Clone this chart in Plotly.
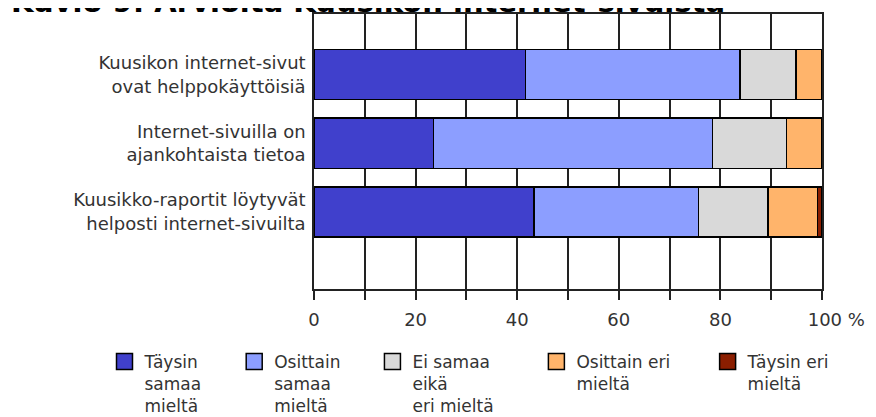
import plotly.graph_objects as go

categories = [
    "Kuusikon internet-sivut<br>ovat helppokäyttöisiä",
    "Internet-sivuilla on<br>ajankohtaista tietoa",
    "Kuusikko-raportit löytyvät<br>helposti internet-sivuilta",
]
NB = "\u00a0"
series_names = [
    "Täysin<br>samaa" + NB * 5 + "<br>mieltä",
    "Osittain" + NB * 5 + "<br>samaa<br>mieltä",
    "Ei samaa<br>eikä<br>eri mieltä" + NB * 7,
    "Osittain eri" + NB * 6 + "<br>mieltä",
    "Täysin eri<br>mieltä",
]
taysin_samaa = [41.6, 23.5, 43.3]
osittain_samaa = [42.3, 54.9, 32.4]
ei_samaa_eika_eri = [11.0, 14.6, 13.7]
osittain_eri = [5.1, 7.0, 9.7]
taysin_eri = [0.0, 0.0, 0.9]
series_values = [taysin_samaa, osittain_samaa, ei_samaa_eika_eri, osittain_eri, taysin_eri]
colors = ["#4040CC", "#8C9EFF", "#D9D9D9", "#FFB46B", "#8B1E00"]
x_tick_vals = [0, 10, 20, 30, 40, 50, 60, 70, 80, 90, 100]
x_tick_text = ["0", "", "20", "", "40", "", "60", "", "80", "", NB * 5 + "100 %"]
title_text = "Kuvio 9: Arvioita Kuusikon internet-sivuista"

FONT = "DejaVu Sans, Verdana, sans-serif"
TXT = "#333333"
PW, PH = 508, 275

fig = go.Figure()
ypos = list(range(len(categories)))
for name, vals, col in zip(series_names, series_values, colors):
    fig.add_trace(go.Bar(
        y=ypos, x=vals, orientation="h", width=0.73,
        marker=dict(color=col, line=dict(color="black", width=1.5)),
        showlegend=False, hoverinfo="x",
    ))
for name, col in zip(series_names, colors):
    fig.add_trace(go.Scatter(
        x=[None], y=[None], mode="markers", name=name,
        marker=dict(symbol="square", size=16, color=col,
                    line=dict(color="black", width=1.5)),
    ))

fig.add_annotation(
    text="<b>" + title_text + "</b>", xref="paper", yref="paper",
    x=-305 / PW, y=1 + 12 / PH, xanchor="left", yanchor="middle",
    showarrow=False, font=dict(family=FONT, size=29, color="black"),
)

fig.update_layout(
    width=876, height=417,
    margin=dict(l=306, r=62, t=6, b=136, autoexpand=False),
    barmode="stack",
    plot_bgcolor="white", paper_bgcolor="white",
    font=dict(family=FONT, size=17, color=TXT),
    legend=dict(orientation="h", xref="paper", yref="paper",
                x=(98.5 - 314 + 6) / PW, xanchor="left", y=-55 / PH, yanchor="top",
                valign="top", font=dict(family=FONT, size=17, color=TXT),
                tracegroupgap=0, traceorder="normal"),
    xaxis=dict(range=[0, 100], tickvals=x_tick_vals, ticktext=x_tick_text,
               showgrid=True, gridcolor="#222222", gridwidth=1.5,
               showline=True, linecolor="#222222", linewidth=1.5, mirror=True,
               ticks="outside", ticklen=9, tickwidth=1.5, tickcolor="#222222",
               tickfont=dict(size=18), zeroline=False, fixedrange=True,
               automargin=False, ticklabelstandoff=5),
    yaxis=dict(range=[3.125, -0.885], tickvals=ypos, ticktext=categories,
               showgrid=False, showline=True, linecolor="#222222", linewidth=1.5,
               mirror=True, ticks="", zeroline=False, ticklabelstandoff=3,
               tickfont=dict(size=18), fixedrange=True, automargin=False),
)
fig.write_html("out.html")
